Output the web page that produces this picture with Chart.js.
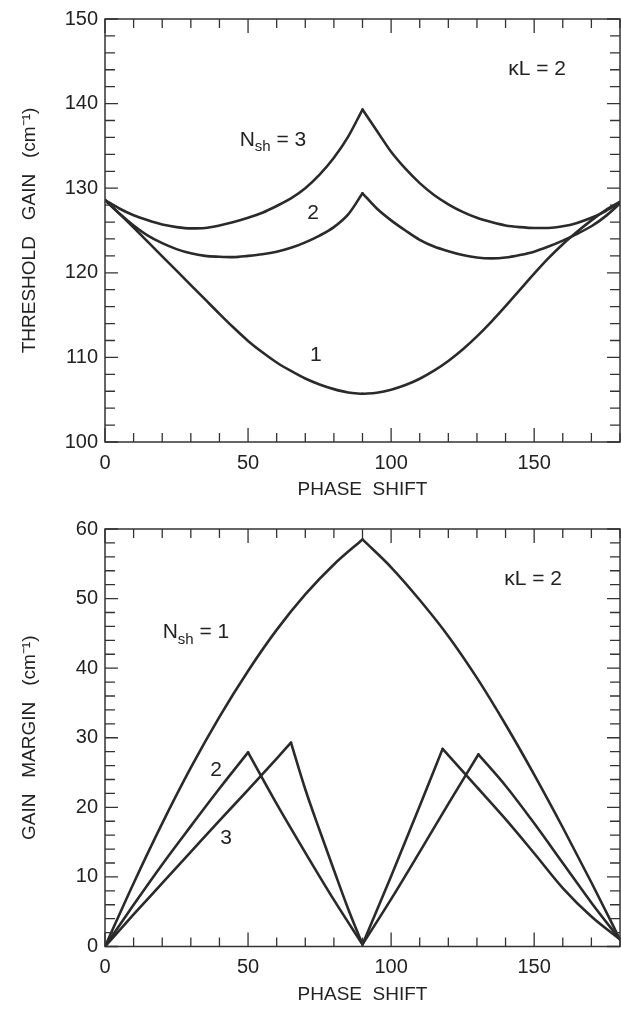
<!DOCTYPE html>
<html>
<head>
<meta charset="utf-8">
<script src="https://cdn.jsdelivr.net/npm/chart.js@4.4.1/dist/chart.umd.min.js"></script>
<style>
  html, body { margin: 0; padding: 0; background: #fff; }
  #wrap { position: relative; width: 621px; height: 1013px; }
  canvas { position: absolute; left: 0; }
  #gainChart { top: 0; }
  #marginChart { top: 510px; }
</style>
</head>
<body>
<div id="wrap">
  <canvas id="gainChart" width="621" height="510"></canvas>
  <canvas id="marginChart" width="621" height="503"></canvas>
</div>
<script>
// top panel - threshold gain (cm-1) vs phase shift, kL = 2
var phaseTop = [0, 5, 10, 15, 20, 25, 30, 35, 40, 45, 50, 55, 60, 65, 70, 75, 80, 85, 90,
                95, 100, 105, 110, 115, 120, 125, 130, 135, 140, 145, 150, 155, 160, 165, 170, 175, 180];
var gainN1 = [128.6, 127.0, 125.35, 123.65, 121.95, 120.25, 118.55, 116.85, 115.15, 113.5, 111.95, 110.6, 109.4, 108.4, 107.5, 106.8, 106.25, 105.85, 105.7,
              105.83, 106.18, 106.73, 107.48, 108.43, 109.58, 110.93, 112.48, 114.2, 116.05, 117.98, 119.9, 121.73, 123.38, 124.85, 126.2, 127.4, 128.4];
var gainN2 = [128.6, 127.0, 125.6, 124.4, 123.5, 122.8, 122.3, 122.0, 121.9, 121.85, 122.0, 122.2, 122.5, 122.95, 123.6, 124.4, 125.4, 126.9, 129.4,
              127.6, 126.2, 125.0, 123.9, 123.1, 122.55, 122.1, 121.8, 121.7, 121.8, 122.1, 122.5, 123.1, 123.8, 124.6, 125.5, 126.7, 128.2];
var gainN3 = [128.6, 127.6, 126.8, 126.2, 125.7, 125.4, 125.25, 125.3, 125.6, 126.0, 126.5, 127.1, 127.9, 128.8, 130.0, 131.6, 133.6, 136.1, 139.3,
              136.8, 134.3, 132.3, 130.6, 129.2, 128.1, 127.2, 126.5, 126.0, 125.6, 125.4, 125.3, 125.3, 125.5, 125.9, 126.5, 127.3, 128.3];

// bottom panel - gain margin (cm-1) vs phase shift
var phaseM1 = [0, 10, 20, 30, 40, 50, 60, 70, 80, 90, 100, 110, 120, 130, 140, 150, 160, 170, 180];
var marginN1 = [0, 9.1, 17.7, 25.7, 33.0, 39.6, 45.5, 50.6, 54.9, 58.5, 54.5, 49.8, 44.6, 38.6, 31.9, 24.7, 17.1, 9.2, 1];
var phaseM2 = [0, 10, 20, 30, 40, 50, 60, 70, 80, 90, 100, 110, 118, 130, 140, 150, 160, 170, 180];
var marginN2 = [0, 6.0, 11.8, 17.3, 22.7, 27.9, 20.5, 13.5, 6.7, 0.3, 10.1, 20.2, 28.4, 22.9, 18.3, 13.4, 8.4, 4.3, 1];
var phaseM3 = [0, 10, 20, 30, 40, 50, 60, 65, 70, 75, 80, 85, 90, 100, 110, 120, 130.5, 140, 150, 160, 170, 180];
var marginN3 = [0, 4.6, 9.1, 13.6, 18.1, 22.5, 27.0, 29.3, 22.6, 16.7, 11.0, 5.4, 0.3, 6.8, 13.6, 20.5, 27.6, 23.1, 17.7, 12.0, 6.3, 1];

// phases where a curve has a sharp corner
var cuspTop = [90];
var cuspM1 = [90];
var cuspM2 = [50, 90, 118];
var cuspM3 = [65, 90, 130.5];

var phaseTicks = [0, 50, 100, 150];
var gainTicks = [100, 110, 120, 130, 140, 150];
var marginTicks = [0, 10, 20, 30, 40, 50, 60];

var FONT = "'Liberation Sans', Arial, sans-serif";
var INK = '#222';
var LINE = '#2a2a2a';

// one smooth dataset per branch, so the corners stay sharp
function curve(xs, ys, cusps) {
  var sets = [], cur = [];
  for (var i = 0; i < xs.length; i++) {
    cur.push({ x: xs[i], y: ys[i] });
    if (cusps.indexOf(xs[i]) >= 0) {
      sets.push(cur);
      cur = [{ x: xs[i], y: ys[i] }];
    }
  }
  sets.push(cur);
  return sets.map(function(d) {
    return {
      data: d,
      borderColor: LINE,
      borderWidth: 2.6,
      pointRadius: 0,
      cubicInterpolationMode: 'monotone',
      borderCapStyle: 'round',
      fill: false
    };
  });
}

// box round the plot with inward ticks on all four sides
var framePlugin = {
  id: 'frame',
  afterDatasetsDraw: function(chart, args, opts) {
    var ctx = chart.ctx, a = chart.chartArea;
    var xs = chart.scales.x, ys = chart.scales.y;
    ctx.save();
    ctx.strokeStyle = '#333';
    ctx.lineWidth = 1.5;
    ctx.strokeRect(a.left, a.top, a.right - a.left, a.bottom - a.top);
    ctx.lineWidth = 1.3;
    ctx.beginPath();
    for (var v = xs.min; v <= xs.max; v += opts.xStep) {
      var px = xs.getPixelForValue(v);
      var len = (v % opts.xMajor === 0) ? 14 : 9;
      ctx.moveTo(px, a.bottom); ctx.lineTo(px, a.bottom - len);
      ctx.moveTo(px, a.top); ctx.lineTo(px, a.top + len);
    }
    for (var w = ys.min; w <= ys.max; w += opts.yStep) {
      var py = ys.getPixelForValue(w);
      var ylen = (w % opts.yMajor === 0) ? 13 : 10;
      ctx.moveTo(a.left, py); ctx.lineTo(a.left + ylen, py);
      ctx.moveTo(a.right, py); ctx.lineTo(a.right - ylen, py);
    }
    ctx.stroke();
    ctx.restore();
  }
};

// curve labels, placed in data units
var notePlugin = {
  id: 'notes',
  afterDatasetsDraw: function(chart, args, opts) {
    var ctx = chart.ctx;
    var xs = chart.scales.x, ys = chart.scales.y;
    ctx.save();
    ctx.fillStyle = INK;
    ctx.textBaseline = 'middle';
    opts.items.forEach(function(n) {
      var cx = xs.getPixelForValue(n.x), cy = ys.getPixelForValue(n.y);
      var big = '21px ' + FONT, small = '15px ' + FONT;
      if (n.sub) {
        ctx.font = big; var w1 = ctx.measureText(n.pre).width;
        ctx.font = small; var w2 = ctx.measureText(n.sub).width;
        ctx.font = big; var w3 = ctx.measureText(n.post).width;
        var x0 = cx - (w1 + w2 + w3) / 2;
        ctx.textAlign = 'left';
        ctx.font = big; ctx.fillText(n.pre, x0, cy);
        ctx.font = small; ctx.fillText(n.sub, x0 + w1, cy + 7);
        ctx.font = big; ctx.fillText(n.post, x0 + w1 + w2, cy);
      } else {
        ctx.font = big;
        ctx.textAlign = 'center';
        ctx.fillText(n.text, cx, cy);
      }
    });
    ctx.restore();
  }
};

function makeChart(id, sets, yMin, yMax, yTicks, yTitle, pad, xBoxH, xTitlePad, notes) {
  return new Chart(document.getElementById(id), {
    type: 'line',
    data: { datasets: sets },
    plugins: [framePlugin, notePlugin],
    options: {
      responsive: false,
      animation: false,
      layout: { padding: { top: pad, right: 1, left: 0, bottom: 0 } },
      scales: {
        x: {
          type: 'linear', min: 0, max: 180,
          afterBuildTicks: function(s) { s.ticks = phaseTicks.map(function(v) { return { value: v }; }); },
          afterFit: function(s) { s.height = xBoxH; },
          grid: { display: false, drawTicks: false },
          border: { display: false },
          ticks: { color: INK, padding: 9, maxRotation: 0, font: { family: FONT, size: 20 } },
          title: { display: true, text: 'PHASE  SHIFT', color: INK, padding: { top: 0, bottom: xTitlePad }, font: { family: FONT, size: 19 } }
        },
        y: {
          min: yMin, max: yMax,
          afterBuildTicks: function(s) { s.ticks = yTicks.map(function(v) { return { value: v }; }); },
          afterFit: function(s) { s.width = 105; },
          grid: { display: false, drawTicks: false },
          border: { display: false },
          ticks: { color: INK, padding: 7, font: { family: FONT, size: 20 } },
          title: { display: true, text: yTitle, color: INK, padding: { top: 18, bottom: 0 }, font: { family: FONT, size: 19 } }
        }
      },
      plugins: {
        legend: { display: false },
        tooltip: { enabled: false },
        frame: { xStep: 10, xMajor: 50, yStep: 2, yMajor: 10 },
        notes: { items: notes }
      }
    }
  });
}

makeChart('gainChart',
  [].concat(curve(phaseTop, gainN1, cuspTop), curve(phaseTop, gainN2, cuspTop), curve(phaseTop, gainN3, cuspTop)),
  100, 150, gainTicks, 'THRESHOLD   GAIN   (cm\u207B\u00B9)', 18, 68, 9,
  [
    { text: '\u03BAL = 2', x: 151, y: 144.1 },
    { pre: 'N', sub: 'sh', post: ' = 3', x: 58.7, y: 135.7 },
    { text: '2', x: 72.7, y: 127.1 },
    { text: '1', x: 73.7, y: 110.3 }
  ]);

makeChart('marginChart',
  [].concat(curve(phaseM1, marginN1, cuspM1), curve(phaseM2, marginN2, cuspM2), curve(phaseM3, marginN3, cuspM3)),
  0, 60, marginTicks, 'GAIN   MARGIN   (cm\u207B\u00B9)', 14.5, 66.5, 7,
  [
    { text: '\u03BAL = 2', x: 149.6, y: 52.8 },
    { pre: 'N', sub: 'sh', post: ' = 1', x: 31.8, y: 45.1 },
    { text: '2', x: 38.8, y: 25.3 },
    { text: '3', x: 42.3, y: 15.6 }
  ]);
</script>
</body>
</html>
